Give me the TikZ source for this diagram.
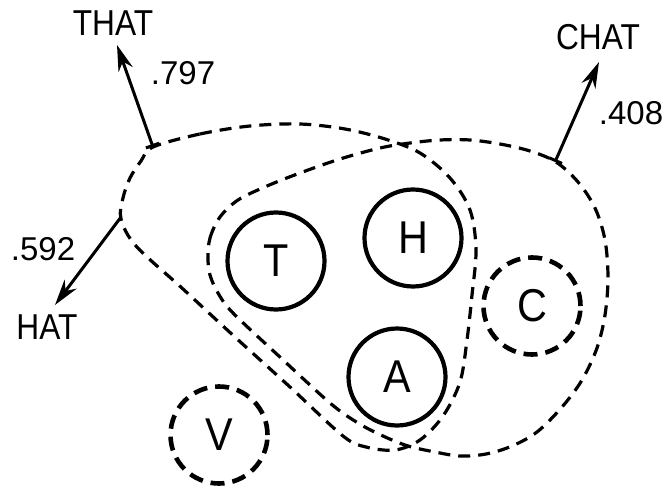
\documentclass[tikz,border=0pt]{standalone}
\usepackage{fontspec}
\setmainfont{Liberation Sans}
\usetikzlibrary{arrows.meta}
\begin{document}
\begin{tikzpicture}[x=1pt,y=-1pt,
  region/.style={line width=3.2pt, dash pattern=on 12pt off 8pt},
  letternode/.style={circle, draw, line width=4.2pt, minimum size=97pt, inner sep=0pt, font=\fontsize{46}{46}\selectfont},
  dletter/.style={letternode, line width=4.6pt, dash pattern=on 14pt off 8pt},
  lbl/.style={font=\fontsize{36}{36}\selectfont, inner sep=0pt},
  num/.style={font=\fontsize{33}{33}\selectfont, inner sep=0pt},
  conn/.style={line width=3pt, -{Stealth[length=26pt,width=15pt]}},
  tconn/.style={conn, {Bar[width=14pt]}-{Stealth[length=26pt,width=15pt]}},
]
\useasboundingbox (0,0) rectangle (672,492);

% letter units
\node[letternode] (T) at (276,261) {\scalebox{0.9}[1]{T}};
\node[letternode] (H) at (413,238) {\scalebox{0.9}[1]{H}};
\node[letternode] (A) at (397,377) {\scalebox{0.9}[1]{A}};
\node[dletter] (C) at (532,306) {\scalebox{0.9}[1]{C}};
\node[dletter] (V) at (219,435) {\scalebox{0.9}[1]{V}};

% region of THAT / HAT
\draw[region] plot[smooth cycle, tension=0.55] coordinates {
  (153,147) (200,134) (250,126) (300,124) (345,129) (385,139) (420,153)
  (450,178) (470,210) (476,250) (472,295) (467,340) (460,382) (443,416)
  (420,440) (395,450) (366,447) (343,436) (290,387) (236,338) (183,289)
  (136,246) (121,219) (123,198) (130,178) (141,161)};

% region of CHAT
\draw[region] plot[smooth cycle, tension=0.55] coordinates {
  (208,258) (210,238) (220,217) (238,200) (267,186) (300,173) (340,159)
  (380,148) (410,143) (440,140) (470,140) (500,144) (530,151) (556,162)
  (578,182) (595,208) (605,240) (608,278) (605,315) (597,348) (582,380)
  (562,407) (537,432) (512,446) (486,454) (460,456) (435,452) (408,446)
  (383,436) (358,423) (330,403) (281,358) (233,313) (218,293) (210,275)};

% word labels
\node[lbl] (that) at (113,23.5) {\scalebox{0.88}[1]{THAT}};
\node[lbl] (chat) at (598,37.5) {\scalebox{0.88}[1]{CHAT}};
\node[lbl] (hat) at (47,327) {\scalebox{0.88}[1]{HAT}};
\node[num] (n797) at (183,73.5) {.797};
\node[num] (n408) at (631,113) {.408};
\node[num] (n592) at (43,249) {.592};

% arrow ends
\coordinate (thatbase) at (153,147);
\coordinate (thattip) at (117,45);
\coordinate (chatbase) at (555,162);
\coordinate (chattip) at (599,62);
\coordinate (hatbase) at (121,217);
\coordinate (hattip) at (55,305);

\draw[tconn] (thatbase) -- (thattip);
\draw[tconn] (chatbase) -- (chattip);
\draw[conn] (hatbase) -- (hattip);
\end{tikzpicture}
\end{document}
